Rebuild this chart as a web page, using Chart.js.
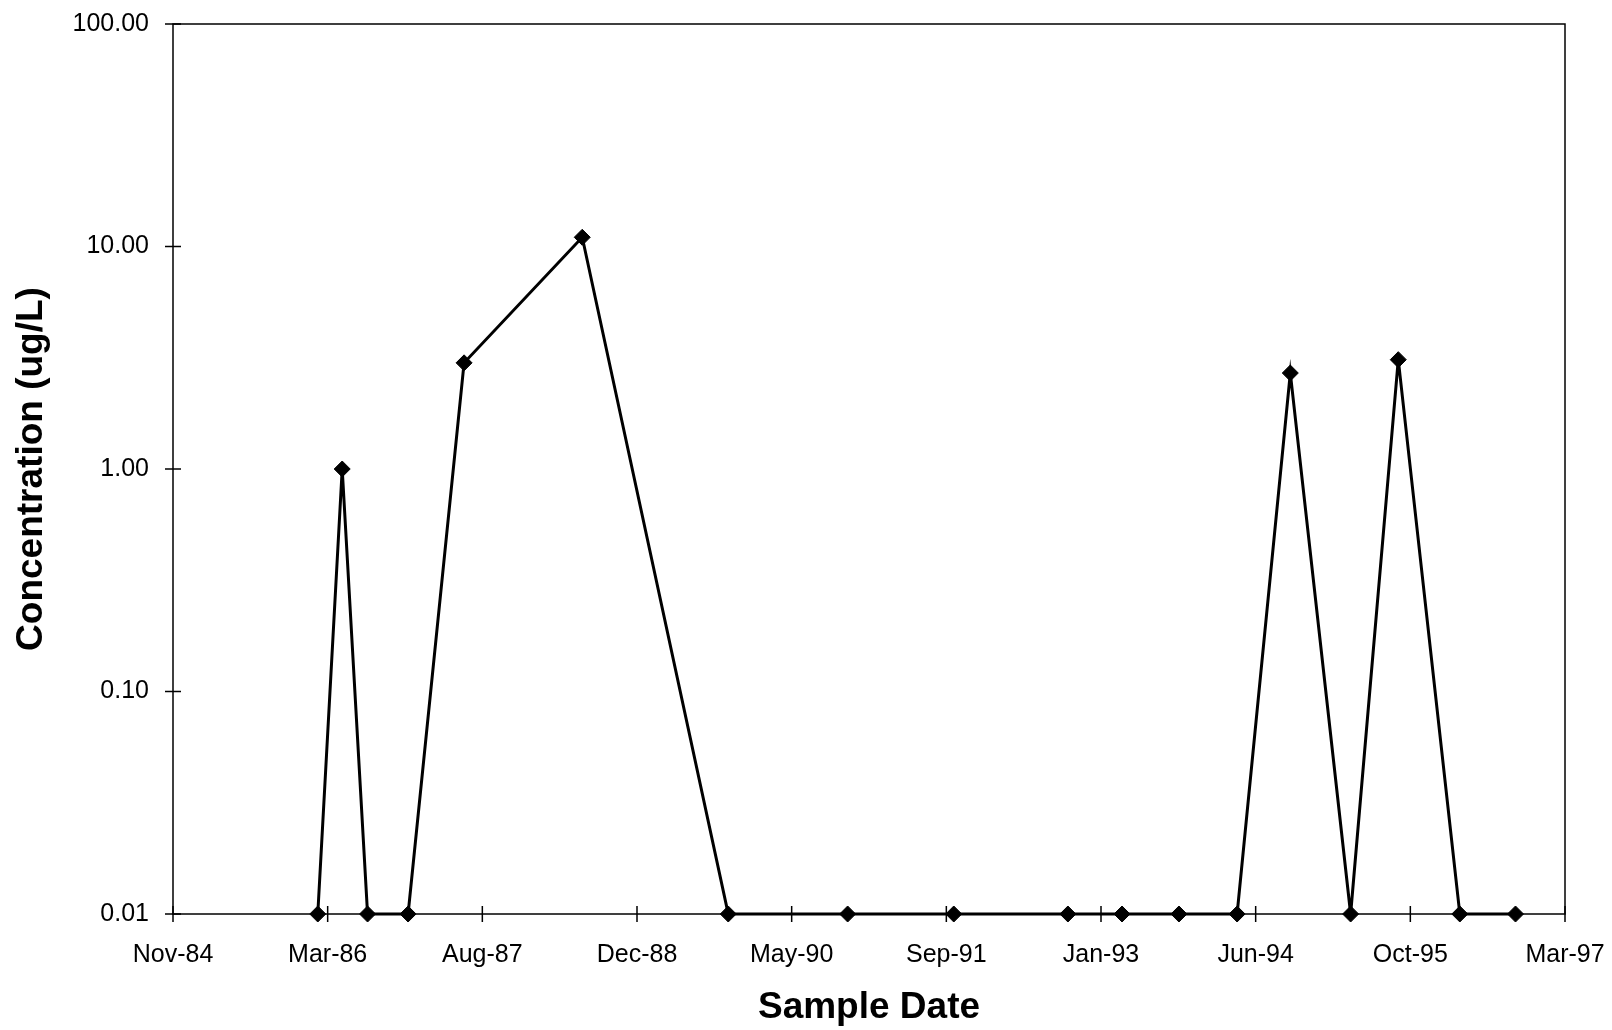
<!DOCTYPE html>
<html>
<head>
<meta charset="utf-8">
<title>Concentration vs Sample Date</title>
<script src="https://cdn.jsdelivr.net/npm/chart.js@4/dist/chart.umd.min.js"></script>
<style>
  html, body { margin: 0; padding: 0; background: #ffffff; }
  #wrap { width: 1612px; height: 1030px; position: relative; }
</style>
</head>
<body>
<div id="wrap"><canvas id="chart"></canvas></div>
<script>
// Sampling dates and measured concentrations (ug/L); 0.01 marks non-detects.
const sampleDates = [
  '1986-02-25', '1986-05-15', '1986-08-05', '1986-12-14', '1987-06-13',
  '1988-06-29', '1989-10-14', '1990-11-04', '1991-10-13', '1992-10-16',
  '1993-04-09', '1993-10-10', '1994-04-16', '1994-10-05', '1995-04-18',
  '1995-09-19', '1996-04-05', '1996-10-02'
];
const concentrations = [
  0.01, 1.0, 0.01, 0.01, 3.0,
  11.0, 0.01, 0.01, 0.01, 0.01,
  0.01, 0.01, 0.01, 2.7, 0.01,
  3.1, 0.01, 0.01
];

// Date axis: starts Nov-84, one major unit every 500 days.
const xAxisStart = '1984-11-14';
const xTickStepDays = 500;
const xTickLabels = ['Nov-84', 'Mar-86', 'Aug-87', 'Dec-88', 'May-90',
                     'Sep-91', 'Jan-93', 'Jun-94', 'Oct-95', 'Mar-97'];

// Logarithmic concentration axis.
const yTickValues = [0.01, 0.1, 1, 10, 100];
const yTickLabels = ['0.01', '0.10', '1.00', '10.00', '100.00'];

const DAY_MS = 86400000;
const toMs = s => { const [y, m, d] = s.split('-').map(Number); return Date.UTC(y, m - 1, d); };
const xStartMs = toMs(xAxisStart);
const xTickValues = xTickLabels.map((_, i) => xStartMs + i * xTickStepDays * DAY_MS);

const points = sampleDates.map((d, i) => ({ x: toMs(d), y: concentrations[i] }));

// Plot frame plus tick marks that cross the axis lines.
const frameAndTicks = {
  id: 'frameAndTicks',
  beforeDatasetsDraw(chart) {
    const { ctx, chartArea: a, scales: { x, y } } = chart;
    const len = 8;
    ctx.save();
    ctx.strokeStyle = '#000';
    ctx.lineWidth = 1.5;
    ctx.strokeRect(a.left, a.top, a.right - a.left, a.bottom - a.top);
    ctx.beginPath();
    x.ticks.forEach(t => {
      const px = x.getPixelForValue(t.value);
      ctx.moveTo(px, a.bottom - len);
      ctx.lineTo(px, a.bottom + len);
    });
    y.ticks.forEach(t => {
      const py = y.getPixelForValue(t.value);
      ctx.moveTo(a.left - len, py);
      ctx.lineTo(a.left + len, py);
    });
    ctx.stroke();
    ctx.restore();
  }
};

const tickFont = { family: '"Liberation Sans", Arial, sans-serif', size: 25, weight: 'normal' };
const titleFont = { family: '"Liberation Sans", Arial, sans-serif', size: 37, weight: 'bold' };

new Chart(document.getElementById('chart'), {
  type: 'line',
  data: {
    datasets: [{
      data: points,
      borderColor: '#000',
      backgroundColor: '#000',
      borderWidth: 3,
      tension: 0,
      pointStyle: 'rectRot',
      pointRadius: 8,
      pointHoverRadius: 8,
      pointBackgroundColor: '#000',
      pointBorderColor: '#000',
      pointBorderWidth: 1,
      clip: false
    }]
  },
  options: {
    responsive: true,
    maintainAspectRatio: false,
    animation: false,
    devicePixelRatio: 1,
    layout: { autoPadding: false, padding: { left: 0, right: 47, top: 24, bottom: 0 } },
    plugins: { legend: { display: false }, tooltip: { enabled: false } },
    scales: {
      x: {
        type: 'linear',
        position: 'bottom',
        min: xTickValues[0],
        max: xTickValues[xTickValues.length - 1],
        afterBuildTicks: s => { s.ticks = xTickValues.map(v => ({ value: v })); },
        afterFit: s => { s.height = 116; s.paddingLeft = 0; s.paddingRight = 0; },
        grid: { display: false, drawTicks: false },
        border: { display: false },
        ticks: {
          color: '#000',
          font: tickFont,
          padding: 26,
          maxRotation: 0,
          autoSkip: false,
          callback: (v, i) => xTickLabels[i]
        },
        title: {
          display: true,
          text: 'Sample Date',
          color: '#000',
          font: titleFont,
          padding: { top: 0, bottom: 0 },
          align: 'center'
        }
      },
      y: {
        type: 'logarithmic',
        position: 'left',
        min: yTickValues[0],
        max: yTickValues[yTickValues.length - 1],
        afterBuildTicks: s => { s.ticks = yTickValues.map(v => ({ value: v })); },
        afterFit: s => { s.width = 173; s.paddingTop = 0; s.paddingBottom = 0; },
        grid: { display: false, drawTicks: false },
        border: { display: false },
        ticks: {
          color: '#000',
          font: tickFont,
          padding: 24,
          autoSkip: false,
          callback: (v, i) => yTickLabels[i]
        },
        title: {
          display: true,
          text: 'Concentration (ug/L)',
          color: '#000',
          font: titleFont,
          padding: { top: 10, bottom: 0 }
        }
      }
    }
  },
  plugins: [frameAndTicks]
});
</script>
</body>
</html>
